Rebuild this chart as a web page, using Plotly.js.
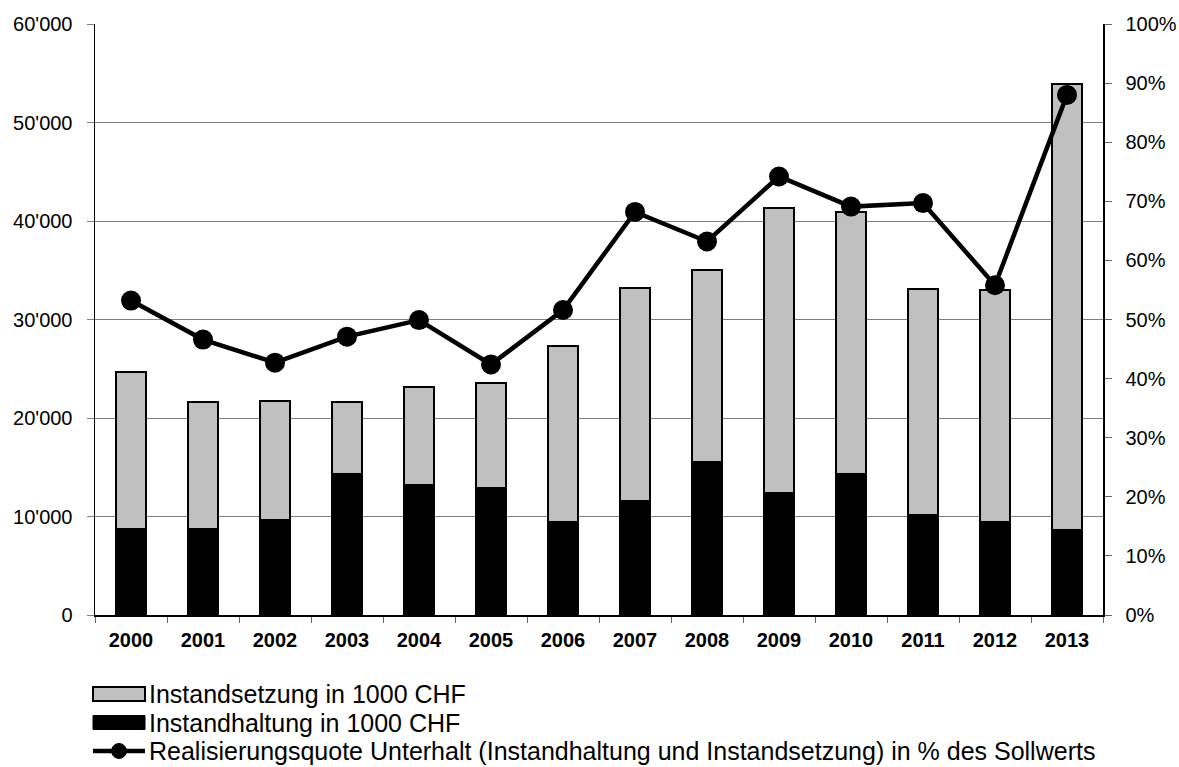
<!DOCTYPE html>
<html>
<head>
<meta charset="utf-8">
<script src="https://cdn.plot.ly/plotly-3.0.1.min.js"></script>
<style>html,body{margin:0;padding:0;background:#fff;}#chart{width:1179px;height:767px;}</style>
</head>
<body>
<div id="chart"></div>
<script>
const years = ['2000','2001','2002','2003','2004','2005','2006','2007','2008','2009','2010','2011','2012','2013'];
const instandhaltung = [8770, 8730, 9600, 14280, 13230, 12860, 9400, 11530, 15530, 12340, 14280, 10110, 9470, 8620];
const totals = [24700, 21650, 21720, 21590, 23180, 23590, 27340, 33230, 35030, 41360, 40920, 33130, 33030, 53940];
const instandsetzung = totals.map((t, i) => t - instandhaltung[i]);
const quote = [53.2, 46.6, 42.7, 47.1, 49.9, 42.4, 51.6, 68.2, 63.2, 74.2, 69.1, 69.7, 55.8, 88.0];
const leftTickVals = [0, 10000, 20000, 30000, 40000, 50000, 60000];
const leftTickText = ["0", "10'000", "20'000", "30'000", "40'000", "50'000", "60'000"];
const rightTickVals = [0,10,20,30,40,50,60,70,80,90,100];
const rightTickText = rightTickVals.map(v => v + '%');
const legendLabels = [
  'Instandsetzung in 1000 CHF',
  'Instandhaltung in 1000 CHF',
  'Realisierungsquote Unterhalt (Instandhaltung und Instandsetzung) in % des Sollwerts'
];

const FAM = 'Liberation Sans, Arial, sans-serif';
const font = {family: FAM, size: 20, color: '#000'};

// plot area in pixels (for placing the hand-drawn legend)
const W = 1179, H = 767, L = 95, R = 76, T = 24, B = 152;
const pw = W - L - R, ph = H - T - B;
const px = p => (p - L) / pw;
const py = p => (H - B - p) / ph;

const traces = [
  {
    type: 'bar', x: years, y: instandhaltung, name: legendLabels[1],
    marker: {color: '#000000', line: {color: '#000000', width: 1.5}}, showlegend: false
  },
  {
    type: 'bar', x: years, y: instandsetzung, name: legendLabels[0],
    marker: {color: '#c0c0c0', line: {color: '#000000', width: 2}}, showlegend: false
  },
  {
    type: 'scatter', mode: 'lines+markers', x: years, y: quote, yaxis: 'y2',
    name: legendLabels[2], cliponaxis: false,
    line: {color: '#000', width: 4.5}, marker: {color: '#000', size: 20}, showlegend: false
  }
];

const rowY = [694, 722.5, 751];
const shapes = [
  {type: 'rect', xref: 'paper', yref: 'paper', x0: px(93), x1: px(145), y0: py(rowY[0] + 7), y1: py(rowY[0] - 7),
   fillcolor: '#c0c0c0', line: {color: '#000', width: 2}},
  {type: 'rect', xref: 'paper', yref: 'paper', x0: px(93), x1: px(145), y0: py(rowY[1] + 7), y1: py(rowY[1] - 7),
   fillcolor: '#000', line: {color: '#000', width: 1}},
  {type: 'line', xref: 'paper', yref: 'paper', x0: px(93), x1: px(145), y0: py(rowY[2]), y1: py(rowY[2]),
   line: {color: '#000', width: 4.5}},
  {type: 'circle', xref: 'paper', yref: 'paper', x0: px(111.5), x1: px(126.5), y0: py(rowY[2] + 7.5), y1: py(rowY[2] - 7.5),
   fillcolor: '#000', line: {color: '#000', width: 1}}
];

const annotations = legendLabels.map((t, i) => ({
  xref: 'paper', yref: 'paper', x: px(148), y: py(rowY[i]), xanchor: 'left', yanchor: 'middle',
  text: t, showarrow: false, font: {family: FAM, size: 25, color: '#000'}, borderpad: 0
}));

const layout = {
  width: W, height: H,
  margin: {l: L, r: R, t: T, b: B},
  paper_bgcolor: '#fff', plot_bgcolor: '#fff',
  font: font,
  barmode: 'stack',
  bargap: 0.58,
  showlegend: false,
  shapes: shapes,
  annotations: annotations,
  xaxis: {
    type: 'category', range: [-0.5, years.length - 0.5], autorange: false,
    showline: true, linecolor: '#000', linewidth: 1.5,
    ticks: 'outside', tickson: 'boundaries', ticklen: 6, tickcolor: '#666', tickwidth: 1,
    tickfont: {family: FAM, size: 20, color: '#000', weight: 'bold'}, ticklabelstandoff: 6,
    showgrid: false, zeroline: false, fixedrange: true
  },
  yaxis: {
    range: [0, 60000], tickvals: leftTickVals, ticktext: leftTickText,
    showline: true, linecolor: '#000', linewidth: 1.5, ticks: 'outside', ticklen: 7, tickcolor: '#808080',
    showgrid: true, gridcolor: '#808080', gridwidth: 1, zeroline: false,
    tickfont: font, ticklabelstandoff: 10, fixedrange: true
  },
  yaxis2: {
    range: [0, 100], overlaying: 'y', side: 'right', tickvals: rightTickVals, ticktext: rightTickText,
    showline: true, linecolor: '#000', linewidth: 1.5, ticks: 'outside', ticklen: 7, tickcolor: '#666',
    showgrid: false, zeroline: false, tickfont: font, ticklabelstandoff: 10, fixedrange: true
  }
};

Plotly.newPlot('chart', traces, layout, {displayModeBar: false, staticPlot: true});
</script>
</body>
</html>
